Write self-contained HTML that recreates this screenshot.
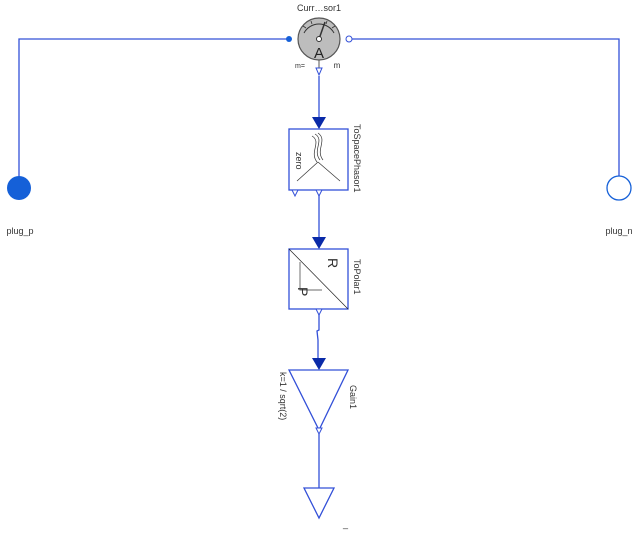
<!DOCTYPE html>
<html><head><style>body{margin:0;background:#fff}svg{display:block}text{font-family:"Liberation Sans",sans-serif;fill:#333}</style></head><body>
<svg width="638" height="534" viewBox="0 0 638 534" xmlns="http://www.w3.org/2000/svg">
<g stroke="#3350d8" stroke-width="1.3" fill="none">
<polyline points="19,188 19,39 290,39"/>
<polyline points="350,39 619,39 619,188"/>
<line x1="319" y1="76" x2="319" y2="118"/>
<line x1="319" y1="195" x2="319" y2="238"/>
<polyline points="319,314 319,330 317,331 318,340 318,359"/>
<line x1="319" y1="434" x2="319" y2="488"/>
</g>
<circle cx="289" cy="39" r="3" fill="#1560d8"/>
<circle cx="349" cy="39" r="3" fill="#fff" stroke="#3350d8"/>
<circle cx="319" cy="39" r="21" fill="#bdbdbd" stroke="#555" stroke-width="1.2"/>
<path d="M304,33 A17,17 0 0 1 334,33" fill="none" stroke="#333"/>
<g stroke="#333" stroke-width="0.8"><line x1="306" y1="28" x2="303" y2="26"/><line x1="312" y1="24" x2="311" y2="21"/><line x1="326" y1="24" x2="327" y2="21"/><line x1="332" y1="28" x2="335" y2="26"/></g>
<line x1="319" y1="39" x2="325" y2="22" stroke="#333" stroke-width="1.5"/>
<circle cx="319" cy="39" r="2.5" fill="#fff" stroke="#333"/>
<text x="319" y="58" font-size="15" text-anchor="middle" style="fill:#222">A</text>
<text x="319" y="11" font-size="9" text-anchor="middle">Curr…sor1</text>
<text x="300" y="68" font-size="7" text-anchor="middle">m=</text>
<text x="337" y="68" font-size="8" text-anchor="middle">m</text>
<line x1="319" y1="60" x2="319" y2="68" stroke="#555"/>
<polygon points="316,68 322,68 319,75" fill="#fff" stroke="#3350d8"/>
<polygon points="312,117 326,117 319,129" fill="#0a2aa8"/>
<rect x="289" y="129" width="59" height="61" fill="#fff" stroke="#3350d8" stroke-width="1.3"/>
<g stroke="#333" stroke-width="0.7" fill="none">
<path d="M315,134 C325,140 312,150 320,160 M318,133 C328,140 315,150 323,160 M312,136 C322,142 309,152 317,162"/>
<line x1="318" y1="162" x2="297" y2="181"/><line x1="318" y1="162" x2="340" y2="181"/>
</g>
<text transform="translate(296,152) rotate(90)" font-size="9">zero</text>
<text transform="translate(354,124) rotate(90)" font-size="9">ToSpacePhasor1</text>
<polygon points="292,190 298,190 295,196" fill="#fff" stroke="#3350d8"/>
<polygon points="316,190 322,190 319,196" fill="#fff" stroke="#3350d8"/>
<polygon points="312,237 326,237 319,249" fill="#0a2aa8"/>
<rect x="289" y="249" width="59" height="60" fill="#fff" stroke="#3350d8" stroke-width="1.3"/>
<line x1="289" y1="249" x2="348" y2="309" stroke="#222" stroke-width="0.7"/>
<polyline points="300,262 300,290 322,290" fill="none" stroke="#888" stroke-width="1.2"/>
<text transform="translate(328,258) rotate(90)" font-size="14" style="fill:#333">R</text>
<text transform="translate(298,287) rotate(90)" font-size="14" style="fill:#333">P</text>
<text transform="translate(354,259) rotate(90)" font-size="9">ToPolar1</text>
<polygon points="316,309 322,309 319,315" fill="#fff" stroke="#3350d8"/>
<polygon points="312,358 326,358 319,370" fill="#0a2aa8"/>
<polygon points="289,370 348,370 319,430" fill="#fff" stroke="#3350d8" stroke-width="1.3"/>
<polygon points="316,428 322,428 319,434" fill="#fff" stroke="#3350d8"/>
<text transform="translate(280,372) rotate(90)" font-size="9">k=1 / sqrt(2)</text>
<text transform="translate(350,385) rotate(90)" font-size="9">Gain1</text>
<polygon points="304,488 334,488 319,518" fill="#fff" stroke="#3350d8" stroke-width="1.3"/>
<text x="343" y="527" font-size="9">_</text>
<circle cx="19" cy="188" r="12" fill="#1560d8"/>
<circle cx="619" cy="188" r="12" fill="#fff" stroke="#1560d8" stroke-width="1.3"/>
<text x="20" y="234" font-size="9" text-anchor="middle">plug_p</text>
<text x="619" y="234" font-size="9" text-anchor="middle">plug_n</text>
</svg>
</body></html>
